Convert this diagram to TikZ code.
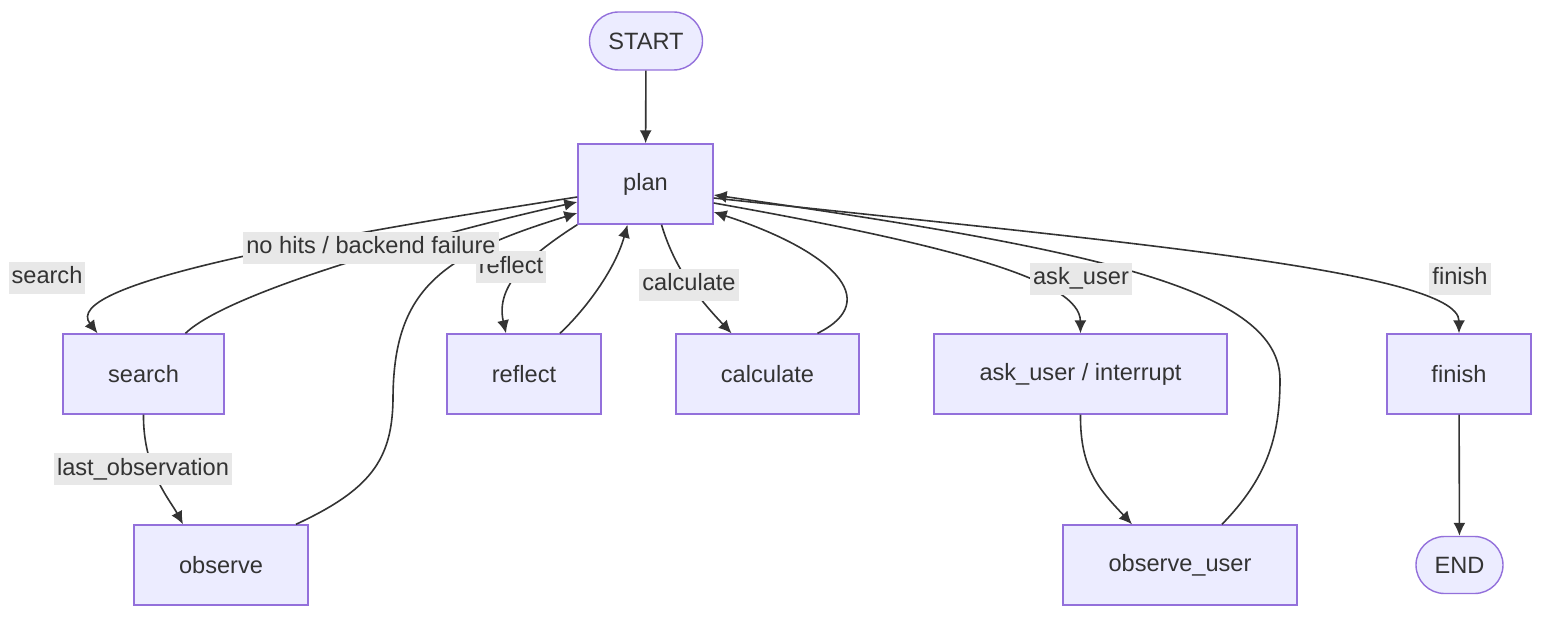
\documentclass[tikz,border=0pt]{standalone}
\usepackage{fontspec}
\setmainfont{Liberation Sans}
\usepackage{xcolor}
\usetikzlibrary{arrows.meta, calc, shapes.misc}

\definecolor{nodefill}{HTML}{ECECFF}
\definecolor{nodeline}{HTML}{9370DB}
\definecolor{ink}{HTML}{333333}
\definecolor{lblfill}{HTML}{E8E8E8}

\begin{document}
\begin{tikzpicture}[x=0.5pt, y={(0pt,-0.5pt)},
        font=\fontsize{11.8pt}{14pt}\selectfont, text=ink,
        box/.style = {draw=nodeline, fill=nodefill, line width=0.7pt,
                      inner sep=0pt, minimum height=40pt},
        term/.style = {rounded rectangle, draw=nodeline, fill=nodefill,
                       line width=0.7pt, inner sep=0pt},
        lbl/.style = {fill=lblfill, inner xsep=1.5pt, inner ysep=2.5pt,
                      text height=8.5pt, text depth=2.5pt},
        edge/.style = {draw=ink, line width=0.8pt, -{Latex[length=6.5pt,width=6pt]}} ]

\useasboundingbox (0,0) rectangle (1560,626);

% nodes
\node (start)   [term, minimum width=56.5pt, minimum height=29pt] at (646,41) {START};
\node (plan)    [box, minimum width=67.5pt] at (645.5,184) {plan};
\node (search)  [box, minimum width=80.5pt] at (143.5,374) {search};
\node (reflect) [box, minimum width=77pt]   at (524,374) {reflect};
\node (calc)    [box, minimum width=91.5pt] at (767.5,374) {calculate};
\node (ask)     [box, minimum width=146.5pt] at (1080.5,374) {ask\_user / interrupt};
\node (finish)  [box, minimum width=72pt]   at (1459,374) {finish};
\node (observe) [box, minimum width=87pt]   at (221,565) {observe};
\node (obsuser) [box, minimum width=117pt]  at (1180,565) {observe\_user};
\node (end)     [term, minimum width=43.5pt, minimum height=28.5pt] at (1459.5,565) {END};

% connectors
\draw[edge] (start) -- (plan);
\draw[edge] ($(plan.west)+(0,13)$) .. controls (300,240) and (60,285) .. ($(search.north)+(-46,0)$);
\draw[edge] ($(search.north)+(42,0)$) .. controls (230,290) and (450,230) .. ($(plan.west)+(0,18)$);
\draw[edge] (search.south) .. controls (143,470) and (170,500) .. ($(observe.north)+(-38,0)$);
\draw[edge] ($(observe.north)+(75,0)$) .. controls (370,490) and (392,460) .. (393,400)
            .. controls (393,290) and (440,255) .. ($(plan.west)+(0,29)$);
\draw[edge] (plan.south west) .. controls (530,255) and (495,285) .. ($(reflect.north)+(-18,0)$);
\draw[edge] ($(reflect.north)+(36,0)$) .. controls (585,310) and (615,270) .. ($(plan.south)+(-18,0)$);
\draw[edge] ($(plan.south)+(16,0)$) .. controls (675,270) and (700,300) .. ($(calc.north)+(-36,0)$);
\draw[edge] ($(calc.north)+(50,0)$) .. controls (885,300) and (830,250) .. ($(plan.east)+(0,28)$);
\draw[edge] ($(plan.east)+(0,19)$) .. controls (950,245) and (1080,280) .. (ask.north);
\draw[edge] (ask.south) .. controls (1080,470) and (1100,490) .. ($(obsuser.north)+(-48,0)$);
\draw[edge] ($(obsuser.north)+(42,0)$) .. controls (1265,480) and (1280,440) .. (1280,380)
            .. controls (1280,290) and (1100,250) .. ($(plan.east)+(0,11)$);
\draw[edge] ($(plan.east)+(0,14)$) .. controls (1100,240) and (1459,270) .. (finish.north);
\draw[edge] (finish) -- (end);

% edge labels
\node (l-search)  [lbl] at (47,278)    {search};
\node (l-reflect) [lbl] at (511,267)   {reflect};
\node (l-nohits)  [lbl] at (371,248)   {no hits / backend failure};
\node (l-calc)    [lbl] at (689,285)   {calculate};
\node (l-last)    [lbl] at (143,469)   {last\_observation};
\node (l-ask)     [lbl] at (1081,279)  {ask\_user};
\node (l-finish)  [lbl] at (1460,279)  {finish};
\end{tikzpicture}
\end{document}
